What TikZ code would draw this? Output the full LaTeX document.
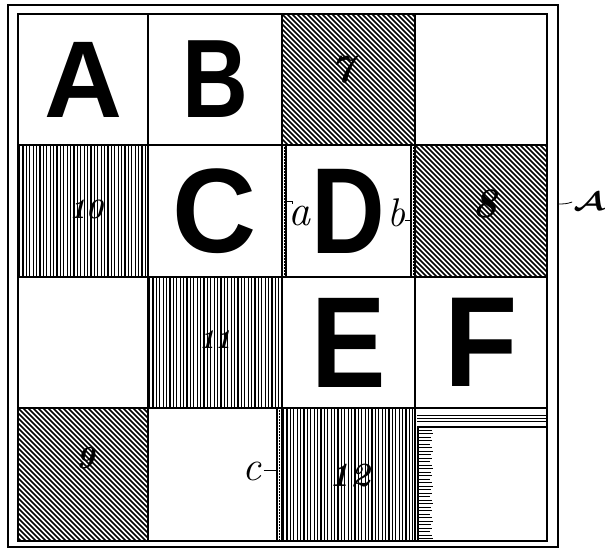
\documentclass[tikz,border=0pt]{standalone}
\usepackage{fontspec}
\usepackage{graphicx}
\usetikzlibrary{calc}
\newfontfamily\grotesk{Liberation Sans}
\tikzset{
  cell/.style={draw, line width=2pt, inner sep=0pt, outer sep=0pt, anchor=north west},
  diaghatch/.style={path picture={
     \foreach \t in {-140,-135,...,140}
       \draw[line width=1.5pt] ([xshift=\t pt]path picture bounding box.north west) -- ++(140,140);}},
  verthatch/.style={path picture={
     \foreach \t in {1.5,4.9,...,135}
       \draw[line width=1.2pt] ([xshift=\t pt]path picture bounding box.north west) -- ++(0,140);}},
  num/.style={font=\bfseries\itshape\fontsize{#1}{#1}\selectfont, inner sep=0pt},
  lbl/.style={font=\itshape\fontsize{#1}{#1}\selectfont, inner sep=0pt},
  leader/.style={line width=0.8pt},
  big/.style={font=\grotesk\bfseries\fontsize{120}{120}\selectfont},
  dbl/.style={line width=1.5pt},
  frameline/.style={draw, line width=1.5pt, inner sep=0pt, outer sep=0pt, anchor=north west}
}
\begin{document}
\begin{tikzpicture}[x=1pt,y=-1pt]
\useasboundingbox (0,0) rectangle (605,551);
\node[frameline, minimum width=550pt, minimum height=542pt] (frame) at (8,5) {};
% row 1
\node[cell, big, minimum width=130pt, minimum height=131pt] (cA) at (18,14) {\scalebox{0.9}[0.91]{A}};
\node[cell, big, minimum width=134pt, minimum height=131pt] (cB) at (148,14) {\scalebox{0.76}[0.93]{B}};
\node[cell, diaghatch, minimum width=133pt, minimum height=131pt] (c7) at (282,14) {};
\node[cell, minimum width=132pt, minimum height=131pt] (c14) at (415,14) {};
% row 2
\node[cell, verthatch, minimum width=130pt, minimum height=132pt] (c10) at (18,145) {};
\node[cell, big, minimum width=134pt, minimum height=132pt] (cC) at (148,145) {\scalebox{0.97}[1.0]{C}};
\node[cell, big, minimum width=133pt, minimum height=132pt] (cD) at (282,145) {\scalebox{0.85}[1.02]{D}};
\node[cell, diaghatch, minimum width=132pt, minimum height=132pt] (c8) at (415,145) {};
% row 3
\node[cell, minimum width=130pt, minimum height=131pt] (c31) at (18,277) {};
\node[cell, verthatch, minimum width=134pt, minimum height=131pt] (c11) at (148,277) {};
\node[cell, big, minimum width=133pt, minimum height=131pt] (cE) at (282,277) {\scalebox{0.93}[1.08]{E}};
\node[cell, big, minimum width=132pt, minimum height=131pt] (cF) at (415,277) {\scalebox{1.0}[1.07]{F}};
% row 4
\node[cell, diaghatch, minimum width=130pt, minimum height=133pt] (c9) at (18,408) {};
\node[cell, minimum width=134pt, minimum height=133pt] (cc) at (148,408) {};
\node[cell, verthatch, minimum width=133pt, minimum height=133pt] (c12) at (282,408) {};
\node[cell, minimum width=132pt, minimum height=133pt] (cG) at (415,408) {};
% double borders
\draw[dbl] ([xshift=4pt]cD.north west) -- ([xshift=4pt]cD.south west);
\draw[dbl] ([xshift=-4pt]cD.north east) -- ([xshift=-4pt]cD.south east);
\draw[line width=0.5pt, densely dotted] ([xshift=2pt]cD.north west) -- ([xshift=2pt]cD.south west);
\draw[line width=0.5pt, densely dotted] ([xshift=-2pt]cD.north east) -- ([xshift=-2pt]cD.south east);
\draw[dbl] ([xshift=-5pt]cc.north east) -- ([xshift=-5pt]cc.south east);
\draw[line width=0.5pt, densely dotted] ([xshift=-2.5pt]cc.north east) -- ([xshift=-2.5pt]cc.south east);
% bottom-right cell band and strip
\foreach \d in {7,10,13} \draw[line width=0.8pt] ($(cG.north west)+(2,\d)$) -- ($(cG.north east)+(0,\d)$);
\draw[line width=1.4pt] ($(cG.north west)+(2,19)$) -- ($(cG.north east)+(0,19)$);
\draw[line width=1.3pt] ($(cG.north west)+(3,19)$) -- ($(cG.south west)+(3,0)$);
\foreach \d [count=\i] in {22,25.5,...,131} {
  \pgfmathsetmacro{\len}{12+mod(\i*7,5)*0.8}
  \draw[line width=1pt] ($(cG.north west)+(3,\d)$) -- ++(\len,0);
}
% numbers
\node[num=40] (n7) at (342,70) {7};
\node[num=42] (n8) at (485,204) {8};
\node[num=32] (n9) at (85,458) {9};
\node[num=28] (n10) at (86,209) {10};
\node[num=27] (n11) at (215,340) {11};
\node[num=34] (n12) at (350,476) {12};
% letter labels
\node[lbl=44] (la) at (299,216) {a};
\draw[leader] ([xshift=4pt]cD.west |- 0,201) -- ++(6,0) -- ++(0,3);
\node[lbl=40] (lb) at (396,213) {b};
\draw[leader] (lb.east |- 0,220) -- ([xshift=-4pt]cD.east |- 0,220);
\node[lbl=42] (lc) at (252,471) {c};
\draw[leader] ([xshift=2pt]lc.east |- 0,470) -- ([xshift=-5pt]cc.east |- 0,470);
\node[inner sep=0pt] (lA) at (589,202) {\scalebox{3.4}[2.6]{\boldmath$\mathcal{A}$}};
\draw[leader] (frame.east |- 0,204) to[out=0,in=200] ([xshift=-1pt]lA.west);
\end{tikzpicture}
\end{document}
